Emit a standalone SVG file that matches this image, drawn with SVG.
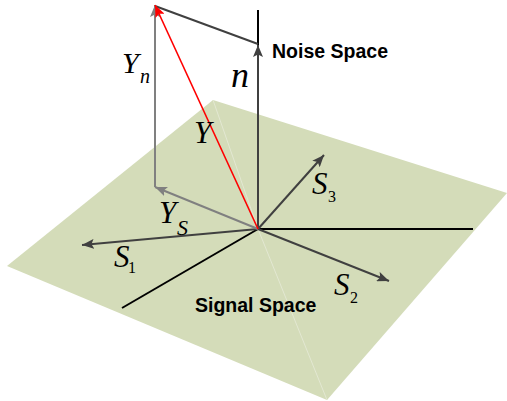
<svg xmlns="http://www.w3.org/2000/svg" width="507" height="401" viewBox="0 0 507 401">
<style>
.math{font-family:"Liberation Serif","Times New Roman",serif;font-style:italic;fill:#000}
.sub{font-family:"Liberation Serif","Times New Roman",serif;fill:#000}
.lbl{font-family:"Liberation Sans",Arial,sans-serif;font-weight:bold;fill:#000;font-size:19.5px}
.blk{stroke:#000;stroke-width:2;fill:none}
.dg{stroke:#404040;stroke-width:2;fill:none}
.gr{stroke:#808080;stroke-width:2;fill:none}
</style>
<defs>
<marker id="ahDark" markerUnits="userSpaceOnUse" markerWidth="14" markerHeight="10" refX="12" refY="5" orient="auto">
<path d="M0,0 L12,5 L0,10 L2.5,5 z" fill="#404040"/>
</marker>
<marker id="ahGrey" markerUnits="userSpaceOnUse" markerWidth="14" markerHeight="10" refX="12" refY="5" orient="auto">
<path d="M0,0 L12,5 L0,10 L2.5,5 z" fill="#808080"/>
</marker>
<marker id="ahRed" markerUnits="userSpaceOnUse" markerWidth="14" markerHeight="10" refX="12" refY="5" orient="auto">
<path d="M0,0 L12,5 L0,10 L2.5,5 z" fill="#ff0000"/>
</marker>
</defs>
<g id="plane">
<polygon points="213,100 507,193 327,400 7,266" fill="#d4dcb9"/>
<polyline points="213,100 258,229 327,400" fill="none" stroke="#e3e8d2" stroke-width="1"/>
</g>
<g id="connectors">
<line class="blk" x1="258" y1="229" x2="473" y2="229"/>
<line class="blk" x1="258" y1="229" x2="122" y2="308"/>
<line class="blk" x1="258" y1="229" x2="258" y2="10"/>
<line class="dg" x1="258" y1="229" x2="258" y2="45" marker-end="url(#ahDark)" stroke="#000"/>
<line class="dg" x1="155" y1="6" x2="258" y2="44"/>
<line class="dg" x1="258" y1="229" x2="82" y2="245" marker-end="url(#ahDark)"/>
<line class="dg" x1="258" y1="229" x2="389" y2="281" marker-end="url(#ahDark)"/>
<line class="dg" x1="258" y1="229" x2="324" y2="155" marker-end="url(#ahDark)"/>
<line class="gr" x1="258" y1="229" x2="155" y2="187" marker-end="url(#ahGrey)"/>
<line class="gr" x1="155" y1="187" x2="155" y2="5" marker-end="url(#ahGrey)"/>
<line x1="258" y1="229" x2="155" y2="5" stroke="#ff0000" stroke-width="1.6" marker-end="url(#ahRed)"/>
</g>
<g id="labels">
<text class="lbl" x="272" y="58">Noise Space</text>
<text class="lbl" x="195" y="312">Signal Space</text>
<text class="math" x="122" y="73" font-size="30">Y</text>
<text class="math" x="140" y="83" font-size="20">n</text>
<text class="math" x="231" y="87" font-size="36">n</text>
<text class="math" x="194" y="143" font-size="31">Y</text>
<text class="math" x="159" y="223" font-size="31">Y</text>
<text class="math" x="177" y="235" font-size="22">S</text>
<text class="math" x="312" y="194" font-size="31">S</text>
<text class="sub" x="328" y="202" font-size="16">3</text>
<text class="math" x="334" y="295" font-size="31">S</text>
<text class="sub" x="350" y="303" font-size="16">2</text>
<text class="math" x="114" y="267" font-size="31">S</text>
<text class="sub" x="128" y="273" font-size="16">1</text>
</g>
</svg>
